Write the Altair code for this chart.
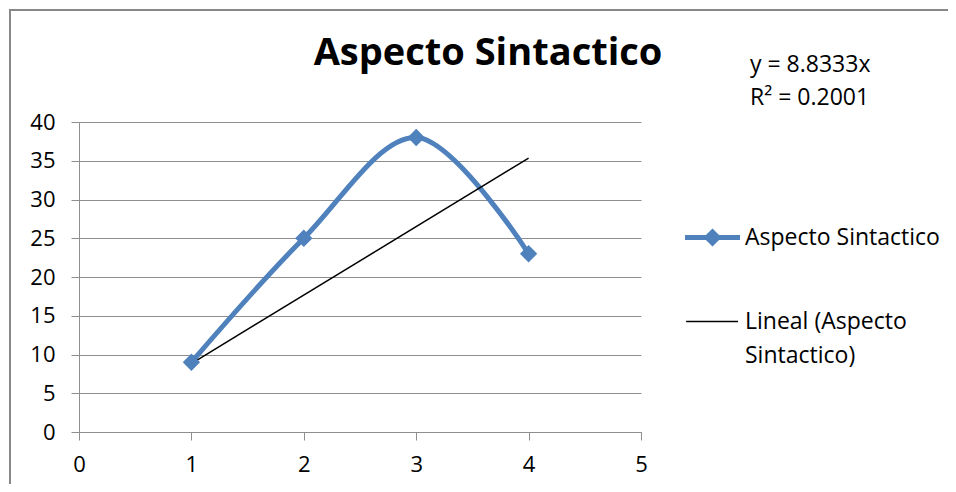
import altair as alt
import pandas as pd

# ---- data ----
x_vals = [1, 2, 3, 4]
y_vals = [9, 25, 38, 23]
series_name = "Aspecto Sintactico"
trend_name = "Lineal (Aspecto Sintactico)"
trend_slope = 8.8333
trend_r2 = 0.2001
trend_x = [1, 4]
title_text = "Aspecto Sintactico"
eq_lines = ["y = 8.8333x", "R² = 0.2001"]
x_ticks = [0, 1, 2, 3, 4, 5]
y_ticks = [0, 5, 10, 15, 20, 25, 30, 35, 40]

FONT = "Open Sans"
BLUE = "#4F81BD"
GRAY = "#8E8E8E"

obs = pd.DataFrame({"x": x_vals, "y": y_vals, "series": [series_name] * len(x_vals)})
trend = pd.DataFrame({"x": trend_x, "y": [trend_slope * v for v in trend_x],
                      "series": [trend_name] * len(trend_x)})
eq_df = pd.DataFrame({"t": ["\n".join(eq_lines)]})
title_df = pd.DataFrame({"t": [title_text]})

W, H = 562, 310

xs = alt.Scale(domain=[0, 5], nice=False)
ys = alt.Scale(domain=[0, 40], nice=False)
cs = alt.Scale(domain=[series_name, trend_name], range=[BLUE, "#000000"])

path_a = "M-1,-0.09H1V0.09H-1Z M0,-0.33L0.33,0L0,0.33L-0.33,0Z"
path_l = "M-0.96,-0.027H0.93V0.027H-0.96Z"
ss = alt.Scale(domain=[series_name, trend_name], range=[path_a, path_l])


def x_axis():
    return alt.Axis(values=x_ticks, grid=False, title=None, format="d",
                    domainColor=GRAY, tickColor=GRAY, tickSize=8, labelPadding=14,
                    labelFlush=False,
                    labelFontSize=22, labelFont=FONT, labelColor="#000000")


def y_axis():
    return alt.Axis(values=y_ticks, tickCount=9, grid=True, gridColor=GRAY, title=None,
                    domainColor=GRAY, tickColor=GRAY, tickSize=8, labelPadding=16,
                    labelOverlap=False,
                    labelFontSize=22, labelFont=FONT, labelColor="#000000")


def X():
    return alt.X("x:Q", scale=xs, axis=x_axis())


def Y():
    return alt.Y("y:Q", scale=ys, axis=y_axis())


# frame lines around the chart (top and left edges visible)
frame_top = alt.Chart(title_df).mark_rule(stroke="#888888", strokeWidth=2).encode(
    x=alt.value(-70), x2=alt.value(2000), y=alt.value(-112)
)
frame_left = alt.Chart(title_df).mark_rule(stroke="#888888", strokeWidth=2).encode(
    x=alt.value(-69), y=alt.value(-113), y2=alt.value(1000)
)

line = alt.Chart(obs).mark_line(interpolate="catmull-rom", strokeWidth=5, color=BLUE).encode(
    x=X(), y=Y()
)

pts = alt.Chart(obs).mark_point(shape="diamond", filled=True, size=300, opacity=1, color=BLUE).encode(
    x=X(), y=Y()
)

tline = alt.Chart(trend).mark_line(strokeWidth=1.5, color="#000000").encode(
    x=X(), y=Y()
)

leg = alt.Legend(
    title=None, orient="none", legendX=606, legendY=88, padding=0,
    symbolSize=3025, symbolStrokeWidth=0, symbolOpacity=1,
    labelFont=FONT, labelFontSize=23, labelColor="#000000", labelLimit=400,
    labelOffset=5, rowPadding=44,
    labelExpr="datum.label == 'Lineal (Aspecto Sintactico)' ? ['Lineal (Aspecto', 'Sintactico)'] : datum.label",
)

legend_src = pd.concat([obs, trend], ignore_index=True)
legend_layer = alt.Chart(legend_src).transform_filter("false").mark_point(filled=True, opacity=1).encode(
    x=X(), y=Y(),
    color=alt.Color("series:N", scale=cs, legend=leg),
    shape=alt.Shape("series:N", scale=ss, legend=leg),
)

title = alt.Chart(title_df).mark_text(font=FONT, fontSize=38, fontWeight="bold",
                                      align="center", baseline="alphabetic", color="#000000").encode(
    x=alt.value(409), y=alt.value(-57), text="t:N"
)

eq = alt.Chart(eq_df).mark_text(font=FONT, fontSize=23, align="left", baseline="alphabetic",
                                lineBreak="\n", lineHeight=33, color="#000000").encode(
    x=alt.value(671), y=alt.value(-50), text="t:N",
)

chart = alt.layer(line, tline, pts, legend_layer, frame_top, frame_left, title, eq).properties(
    width=W, height=H,
    autosize=alt.AutoSizeParams(type="none"),
    padding={"left": 71, "top": 114, "right": 307, "bottom": 52},
).configure(
    background="white",
    style={"guide-label": {"lineHeight": 34}},
).configure_view(stroke=None)

chart.save("out.html", embed_options={"renderer": "svg", "actions": False})
